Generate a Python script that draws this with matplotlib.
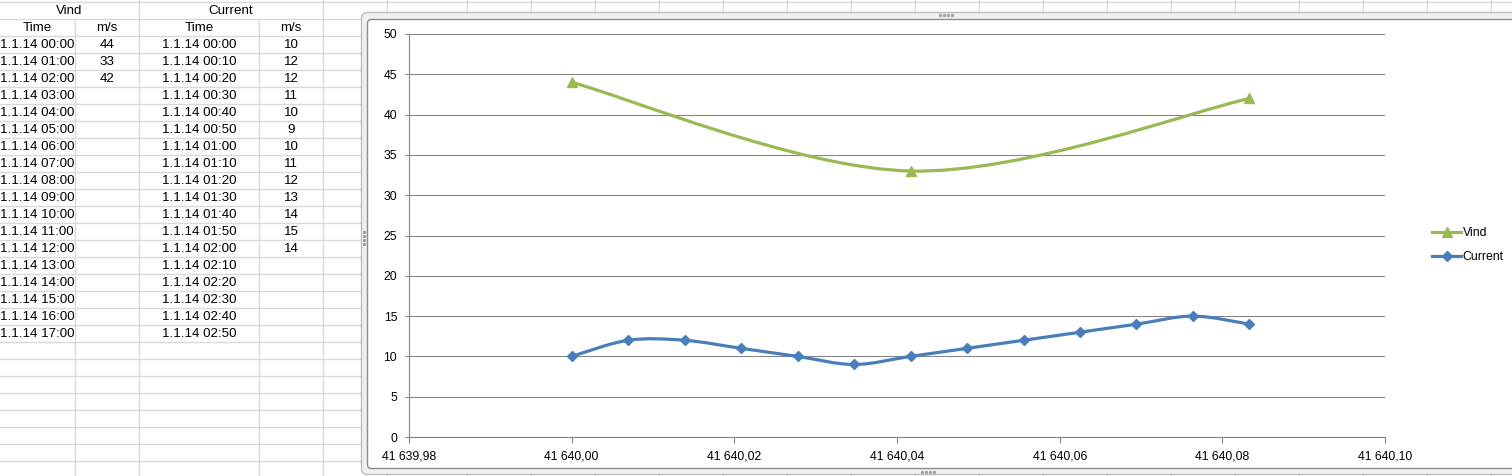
import datetime as dt

import matplotlib.pyplot as plt
import numpy as np
from matplotlib.patches import FancyBboxPatch, PathPatch
from matplotlib.path import Path
from matplotlib.ticker import FuncFormatter, MultipleLocator

plt.rcParams.update({
    'font.family': ['Liberation Sans', 'DejaVu Sans'],
    'font.size': 9,
})

# === Sheet data
vind_times = [
    "1.1.14 00:00", "1.1.14 01:00", "1.1.14 02:00", "1.1.14 03:00", "1.1.14 04:00",
    "1.1.14 05:00", "1.1.14 06:00", "1.1.14 07:00", "1.1.14 08:00", "1.1.14 09:00",
    "1.1.14 10:00", "1.1.14 11:00", "1.1.14 12:00", "1.1.14 13:00", "1.1.14 14:00",
    "1.1.14 15:00", "1.1.14 16:00", "1.1.14 17:00",
]
vind_speed = [44, 33, 42]

current_times = [
    "1.1.14 00:00", "1.1.14 00:10", "1.1.14 00:20", "1.1.14 00:30", "1.1.14 00:40",
    "1.1.14 00:50", "1.1.14 01:00", "1.1.14 01:10", "1.1.14 01:20", "1.1.14 01:30",
    "1.1.14 01:40", "1.1.14 01:50", "1.1.14 02:00", "1.1.14 02:10", "1.1.14 02:20",
    "1.1.14 02:30", "1.1.14 02:40", "1.1.14 02:50",
]
current_speed = [10, 12, 12, 11, 10, 9, 10, 11, 12, 13, 14, 15, 14]

VIND_COLOR = '#98B954'
CURRENT_COLOR = '#4A7EBB'
AXIS_GRAY = '#868686'
SHEET_GRID = '#D9D9D9'


def to_serial(label):
    """Excel serial date from a 'd.m.yy HH:MM' label."""
    day, clock = label.split()
    d, m, y = (int(p) for p in day.split('.'))
    hh, mm = (int(p) for p in clock.split(':'))
    stamp = dt.datetime(2000 + y, m, d, hh, mm)
    delta = stamp - dt.datetime(1899, 12, 30)
    return delta.days + delta.seconds / 86400


def excel_smooth(x, y):
    """Bezier path through the points, the way Excel smooths a line."""
    pts = np.column_stack([x, y])
    n = len(pts)
    verts = [pts[0]]
    codes = [Path.MOVETO]
    for i in range(n - 1):
        p0 = pts[i - 1] if i > 0 else pts[i]
        p1, p2 = pts[i], pts[i + 1]
        p3 = pts[i + 2] if i + 2 < n else pts[i + 1]
        verts += [p1 + (p2 - p0) / 6, p2 - (p3 - p1) / 6, p2]
        codes += [Path.CURVE4] * 3
    return Path(verts, codes)


W, H = 1512, 476
fig = plt.figure(figsize=(W / 100, H / 100), dpi=100)

# === Spreadsheet in pixel coordinates
bg = fig.add_axes([0, 0, 1, 1])
bg.set_xlim(0, W)
bg.set_ylim(H, 0)
bg.axis('off')

row0, row_h = 1.5, 17
col_edges = [75, 139, 259, 323, 387] + list(range(467, W + 1, 64))
n_rows = int((H - row0) / row_h) + 1
for r in range(n_rows + 1):
    bg.axhline(row0 + r * row_h, color=SHEET_GRID, lw=1, zorder=1)
for cx in col_edges:
    # merged header cells: no border between A|B and C|D in the first row
    y_top = row0 + row_h if cx in (75, 259) else 0
    bg.plot([cx, cx], [y_top, H], color=SHEET_GRID, lw=1, zorder=1)

col_centers = [37, 107, 199, 291]
text_kw = dict(ha='center', va='center', fontsize=9.6, color='black', zorder=2)


def row_mid(r):
    return row0 + r * row_h + row_h / 2 + 1


bg.text(69, row_mid(0), "Vind", **text_kw)
bg.text(231, row_mid(0), "Current", **text_kw)
for cx, lab in zip(col_centers, ["Time", "m/s", "Time", "m/s"]):
    bg.text(cx, row_mid(1), lab, **text_kw)
for i, t in enumerate(vind_times):
    bg.text(col_centers[0], row_mid(i + 2), t, **text_kw)
for i, v in enumerate(vind_speed):
    bg.text(col_centers[1], row_mid(i + 2), str(v), **text_kw)
for i, t in enumerate(current_times):
    bg.text(col_centers[2], row_mid(i + 2), t, **text_kw)
for i, v in enumerate(current_speed):
    bg.text(col_centers[3], row_mid(i + 2), str(v), **text_kw)

# chart object frame (selection band + white chart area)
bg.add_patch(FancyBboxPatch((361.5, 12.5), 1200, 462, boxstyle="round,pad=0,rounding_size=6",
                            facecolor='#F0F0F0', edgecolor='#BDBDBD', lw=1, zorder=3))
bg.add_patch(FancyBboxPatch((367.5, 19.5), 1200, 449, boxstyle="round,pad=0,rounding_size=4",
                            facecolor='white', edgecolor='#8E8E8E', lw=1, zorder=4))
handle_dots = [(940, 15), (944, 15), (948, 15), (952, 15),
               (364, 232), (364, 236), (364, 240), (364, 244),
               (922, 472), (926, 472), (930, 472), (934, 472)]
for hx, hy in handle_dots:
    bg.plot(hx, hy, marker='s', ms=1.2, color='#A0A0A0', zorder=5)

# === Chart
x_left, x_right, y_top, y_bot = 409, 1385, 34, 437
ax = fig.add_axes([x_left / W, (H - y_bot) / H, (x_right - x_left) / W, (y_bot - y_top) / H])
ax.set_facecolor('none')

vind_x = [to_serial(t) for t in vind_times[:len(vind_speed)]]
current_x = [to_serial(t) for t in current_times[:len(current_speed)]]

ax.add_patch(PathPatch(excel_smooth(vind_x, vind_speed), facecolor='none',
                       edgecolor=VIND_COLOR, lw=2.3, zorder=3))
ax.add_patch(PathPatch(excel_smooth(current_x, current_speed), facecolor='none',
                       edgecolor=CURRENT_COLOR, lw=2.3, zorder=3))
ax.plot(vind_x, vind_speed, linestyle='none', marker='^', ms=7.5, color=VIND_COLOR, zorder=4)
ax.plot(current_x, current_speed, linestyle='none', marker='D', ms=5, color=CURRENT_COLOR, zorder=4)

# legend proxies
h_vind, = ax.plot([], [], color=VIND_COLOR, lw=2.3, marker='^', ms=7, label='Vind')
h_cur, = ax.plot([], [], color=CURRENT_COLOR, lw=2.3, marker='D', ms=5, label='Current')

ax.set_xlim(41639.98, 41640.10)
ax.set_ylim(0, 50)
ax.xaxis.set_major_locator(MultipleLocator(0.02))
ax.yaxis.set_major_locator(MultipleLocator(5))
ax.xaxis.set_major_formatter(FuncFormatter(
    lambda v, _: f"{v:,.2f}".replace(",", " ").replace(".", ",")))
ax.grid(axis='y', color=AXIS_GRAY, lw=0.8)
ax.set_axisbelow(True)
for side in ['top', 'right']:
    ax.spines[side].set_visible(False)
for side in ['left', 'bottom']:
    ax.spines[side].set_color(AXIS_GRAY)
    ax.spines[side].set_linewidth(0.8)
ax.tick_params(axis='y', direction='out', length=3, width=0.8, color=AXIS_GRAY,
               pad=5.5, labelsize=8.8, labelcolor='black')
ax.tick_params(axis='x', direction='out', length=4, width=0.8, color=AXIS_GRAY,
               pad=5.5, labelsize=8.8, labelcolor='black')

fig.legend(handles=[h_vind, h_cur], loc='center left',
           bbox_to_anchor=(1432 / W, (H - 245) / H), frameon=False, fontsize=8.8,
           handlelength=2.4, handletextpad=0.1, labelspacing=1.0,
           borderpad=0, borderaxespad=0)

fig.savefig('out.png', dpi=100)
